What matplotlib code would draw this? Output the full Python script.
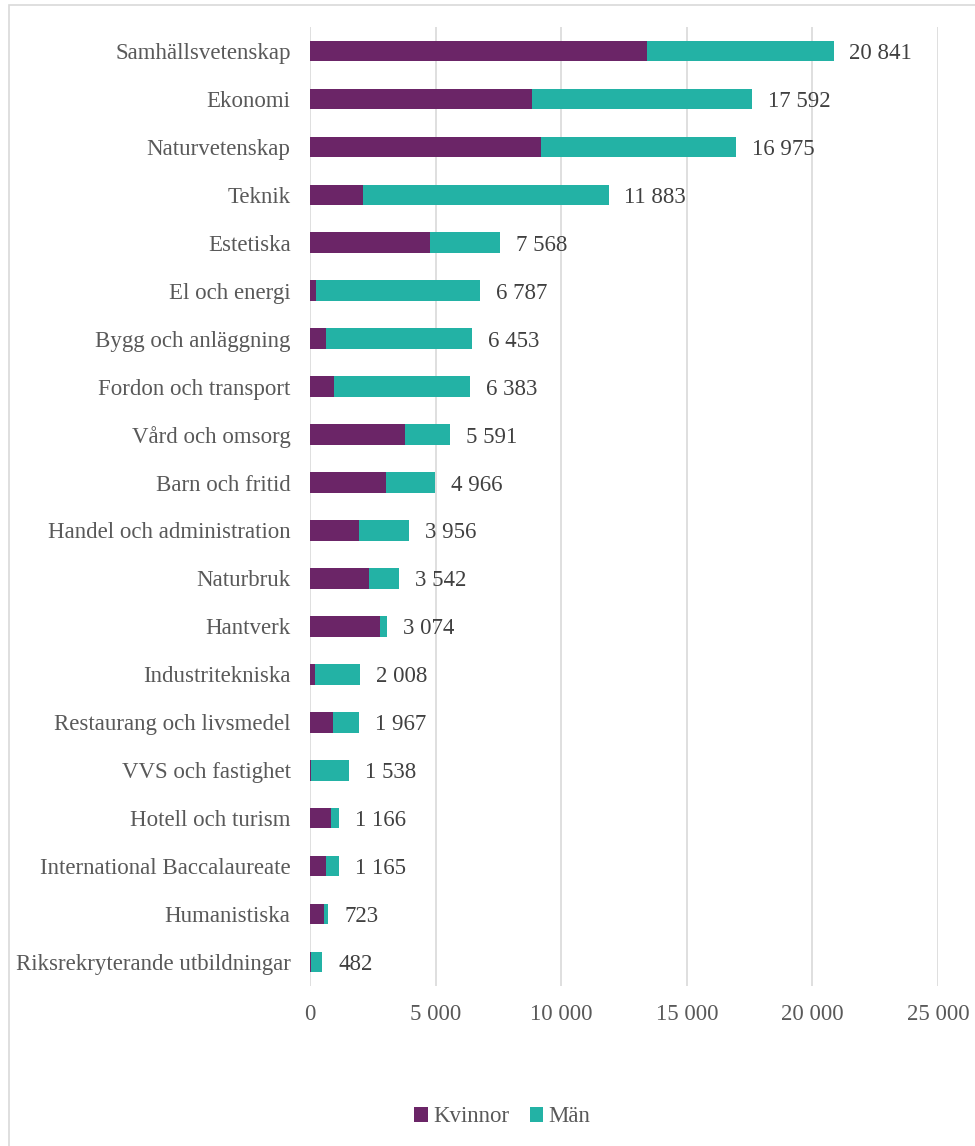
import matplotlib
matplotlib.use("Agg")
import matplotlib.pyplot as plt
from matplotlib.patches import Rectangle, Patch
import numpy as np

categories = [
    "Samhällsvetenskap", "Ekonomi", "Naturvetenskap", "Teknik", "Estetiska",
    "El och energi", "Bygg och anläggning", "Fordon och transport",
    "Vård och omsorg", "Barn och fritid", "Handel och administration",
    "Naturbruk", "Hantverk", "Industritekniska", "Restaurang och livsmedel",
    "VVS och fastighet", "Hotell och turism", "International Baccalaureate",
    "Humanistiska", "Riksrekryterande utbildningar",
]
totals = [20841, 17592, 16975, 11883, 7568, 6787, 6453, 6383, 5591, 4966,
          3956, 3542, 3074, 2008, 1967, 1538, 1166, 1165, 723, 482]
kvinnor = [13400, 8840, 9190, 2090, 4780, 230, 640, 950, 3780, 3030,
           1950, 2350, 2800, 190, 920, 30, 840, 640, 560, 20]
man = [t - k for t, k in zip(totals, kvinnor)]
series_names = ["Kvinnor", "Män"]
xticks = [0, 5000, 10000, 15000, 20000, 25000]

purple = "#6B2567"
teal = "#23B2A5"
grid_c = "#D9D9D9"
font = ["Liberation Serif", "DejaVu Serif"]

def fmt(v):
    return f"{v:,}".replace(",", " ")

fig = plt.figure(figsize=(9.75, 11.46), dpi=100)
ax = fig.add_axes([310 / 975, 1 - 986 / 1146, 628 / 975, 959 / 1146])

y = np.arange(len(categories))
h = 0.43
ax.barh(y, kvinnor, height=h, color=purple, zorder=3, label=series_names[0])
ax.barh(y, man, left=kvinnor, height=h, color=teal, zorder=3, label=series_names[1])

for yi, t in zip(y, totals):
    ax.annotate(fmt(t), xy=(t, yi), xytext=(11.5, -1.8), textcoords="offset points",
                ha="left", va="center", fontsize=16.5, color="#404040",
                family=font, zorder=4)

ax.set_xlim(0, 25000)
ax.set_ylim(len(categories) - 0.5, -0.5)
ax.set_yticks(y)
ax.set_yticklabels(categories, family=font, fontsize=16.5, color="#595959")
ax.set_xticks(xticks)
ax.set_xticklabels([fmt(v) for v in xticks], family=font, fontsize=16.5, color="#595959")
ax.tick_params(axis="y", length=0, pad=14)
ax.tick_params(axis="x", length=0, pad=13)
ax.grid(axis="x", color=grid_c, linewidth=1.2, zorder=0)
ax.set_axisbelow(True)
for s in ax.spines.values():
    s.set_visible(False)

# chart border (extends beyond the right and bottom edges)
fig.patches.append(Rectangle((9 / 975, -0.05), 1.2, 1 - 5 / 1146 + 0.05,
                             transform=fig.transFigure, fill=False,
                             edgecolor=grid_c, linewidth=1.2))

handles = [Patch(facecolor=purple), Patch(facecolor=teal)]
fig.legend(handles, series_names, loc="center", bbox_to_anchor=(0.515, 1 - 1117 / 1146),
           ncol=2, frameon=False, prop={"family": font, "size": 16.5},
           handlelength=0.6, handleheight=0.6, handletextpad=0.2,
           columnspacing=0.9, labelcolor="#595959")

fig.savefig("out.png", dpi=100)
